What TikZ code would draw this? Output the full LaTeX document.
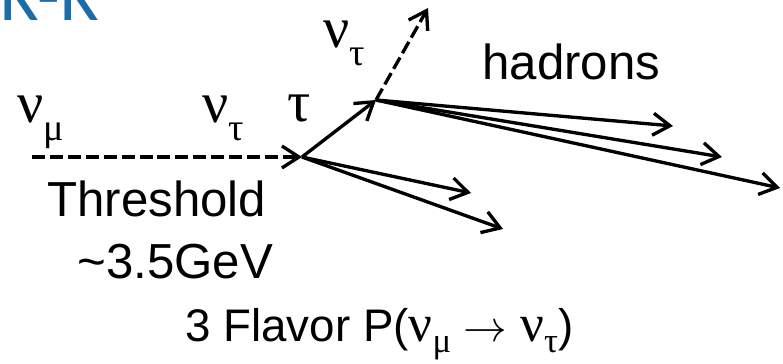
\documentclass[tikz,border=0pt]{standalone}
\usepackage{fontspec}
\setmainfont{Liberation Sans}
\newfontfamily\grk{Liberation Serif}
\newfontfamily\ttl{Carlito}
\usetikzlibrary{arrows.meta}
\definecolor{titleblue}{RGB}{28,108,168}
\tikzstyle{track} = [line width=1.9pt, -{Straight Barb[length=3.4mm,width=4.4mm]}]
\tikzstyle{nutrack} = [track, dash pattern=on 7.4pt off 2.8pt]
\tikzstyle{txt} = [inner sep=0pt, anchor=base west, font=\fontsize{28}{32}\selectfont]
\tikzstyle{grklbl} = [inner sep=0pt, anchor=base west, font=\grk\fontsize{33}{36}\selectfont]
\newcommand{\flv}[2]{{\grk #1}\raisebox{-0.3em}{\scalebox{0.66}{\grk #2}}}
\newcommand{\flvs}[2]{{\grk #1}\raisebox{-0.22em}{\scalebox{0.66}{\grk #2}}}

\begin{document}
\begin{tikzpicture}[x=0.02cm,y=-0.02cm]
\useasboundingbox (0,0) rectangle (783,364);
\clip (0,0) rectangle (783,364);

% slide title, cut at the top
\node[inner sep=0pt, anchor=base west, text=titleblue,
font=\ttl\fontsize{42}{46}\selectfont] (title) at (0,21) {K-K};

% vertices
\coordinate (start) at (32,157);
\coordinate (prod) at (302,157);
\coordinate (decay) at (376,100);
\coordinate (nuend) at (428,8);
\coordinate (h1) at (673,126);
\coordinate (h2) at (722,157);
\coordinate (h3) at (780,188);
\coordinate (x1) at (471,193);
\coordinate (x2) at (503,229);

% labels
\node[grklbl] (numu) at (17,123) {\flv{ν}{μ}};
\node[grklbl] (nutau) at (202,123) {\flv{ν}{τ}};
\node[grklbl] (tau) at (287,122) {τ};
\node[grklbl] (nutautop) at (323,48) {\flv{ν}{τ}};
\node[txt] (hadrons) at (482,80) {hadrons};
\node[txt] (threshold) at (47,217) {Threshold};
\node[txt] (energy) at (77,278) {\textasciitilde 3.5GeV};
\node[txt, font=\fontsize{26}{30}\selectfont] (caption) at (185,341)
{3 Flavor P({\fontsize{30}{30}\selectfont\flvs{ν}{μ}} $\rightarrow$ {\fontsize{30}{30}\selectfont\flvs{ν}{τ}})};

% tracks
\draw[nutrack] (start) -- (prod);
\draw[track] (prod) -- (decay);
\draw[nutrack] (decay) -- (nuend);
\draw[track] (decay) -- (h1);
\draw[track] (decay) -- (h2);
\draw[track] (decay) -- (h3);
\draw[track] (prod) -- (x1);
\draw[track] (prod) -- (x2);
\end{tikzpicture}
\end{document}
